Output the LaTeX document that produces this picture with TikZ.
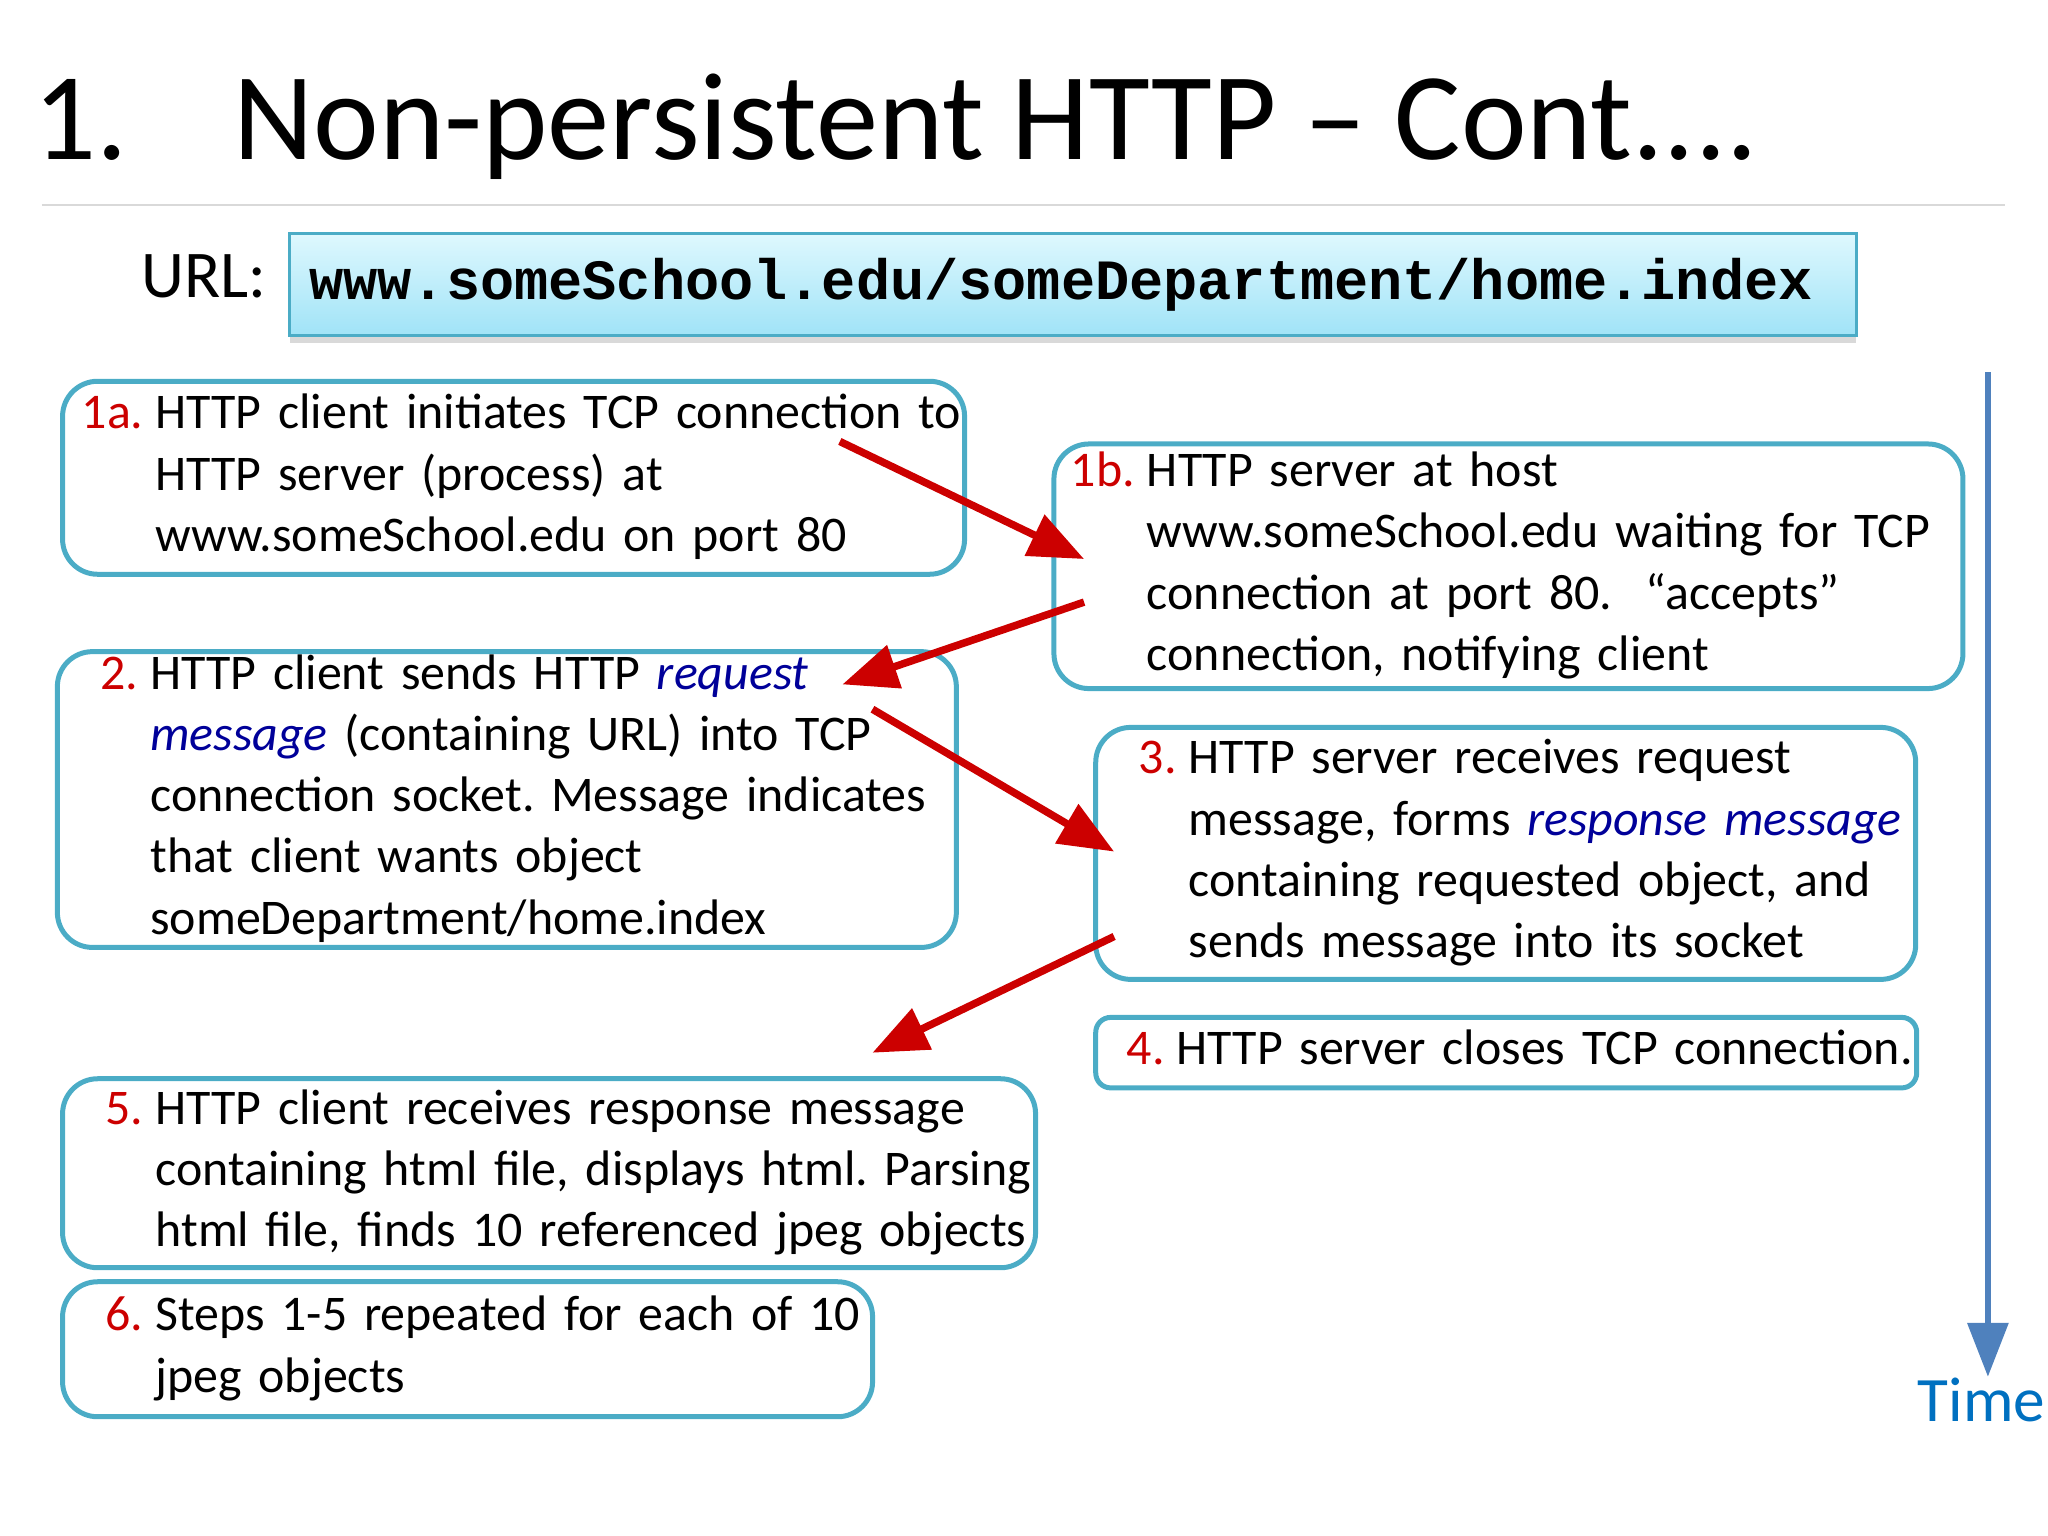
\documentclass[tikz,border=0pt]{standalone}
\usepackage{fontspec}
\setmainfont{Carlito}
\setmonofont{Liberation Mono}
\usetikzlibrary{positioning}
\usetikzlibrary{arrows.meta}
\usetikzlibrary{shadows}
\frenchspacing
\definecolor{boxblue}{RGB}{75,172,198}
\definecolor{numred}{RGB}{204,0,0}
\definecolor{msgblue}{RGB}{0,0,153}
\definecolor{timeblue}{RGB}{79,129,189}
\definecolor{timetext}{RGB}{0,112,192}
\definecolor{urltop}{RGB}{222,248,254}
\definecolor{urlbot}{RGB}{160,227,247}
\definecolor{rulegray}{RGB}{217,217,217}
\newlength{\numw}
\setlength{\numw}{0.75cm}
\newcommand{\stepno}[1]{\makebox[\numw][r]{\textcolor{numred}{#1}\hspace{0.12cm}}}
\newcommand{\ind}{\hspace*{\numw}}
\newcommand{\msg}[1]{\textcolor{msgblue}{\itshape #1}}
\newcommand{\steplines}[1]{\begin{tabular}{@{}l@{}}#1\end{tabular}}
\tikzset{%
  stepbox/.style = {rectangle,draw=boxblue,line width=0.05cm,
        rounded corners=0.35cm,anchor=north west,align=left,
        inner xsep=0.18cm,inner ysep=0pt,
        font=\fontsize{14.2pt}{17.4pt}\selectfont},
  redarrow/.style = {-{Triangle[length=0.55cm,width=0.44cm]},
        draw=numred,line width=0.075cm},
  timearrow/.style = {-{Triangle[length=0.54cm,width=0.40cm]},
        draw=timeblue,line width=0.065cm},
  urlbox/.style = {rectangle,draw=boxblue,line width=0.03cm,
        top color=urltop,bottom color=urlbot,
        drop shadow={shadow xshift=0cm,shadow yshift=-0.07cm,opacity=0.3},
        minimum height=1.02cm,text width=15.27cm,align=left,
        inner xsep=0.196cm,
        font=\ttfamily\bfseries\fontsize{16.2pt}{18pt}\selectfont}
}

\begin{document}
\begin{tikzpicture}[x=0.01306cm,y=-0.01306cm]
   \useasboundingbox (0,0) rectangle (1568,1176);

   % title and url
   \node[anchor=base west,inner sep=0pt,font=\fontsize{35.4pt}{40pt}\selectfont]
      (title) at (25,122) {\makebox[2cm][l]{1.}Non-persistent HTTP -- Cont....};
   \draw[rulegray,line width=0.026cm] (32,157) -- (1535,157);
   \node[anchor=base west,inner sep=0pt,font=\fontsize{19pt}{22pt}\selectfont]
      (urllbl) at (108,228) {URL:};
   \node[urlbox] (url) at (821.5,218) {www.someSchool.edu/someDepartment/home.index};

   % client and server steps
   \node[stepbox,text width=8.66cm,minimum height=1.93cm] (s1a) at (46,290)
      {\steplines{\stepno{1a.}HTTP client initiates TCP connection to\\
       \ind HTTP server (process) at\\
       \ind www.someSchool.edu on port 80}};
   \node[stepbox,text width=8.73cm,minimum height=2.40cm] (s1b) at (805,338)
      {\steplines{\stepno{1b.}HTTP server at host\\
       \ind www.someSchool.edu waiting for TCP\\
       \ind connection at port 80.\ \ ``accepts''\\
       \ind connection, notifying client}};
   \node[stepbox,text width=8.63cm,minimum height=2.95cm,inner ysep=-0.05cm] (s2) at (42,497)
      {\steplines{\stepno{2.}HTTP client sends HTTP \msg{request}\\
       \ind\msg{message} (containing URL) into TCP\\
       \ind connection socket. Message indicates\\
       \ind that client wants object\\
       \ind someDepartment/home.index}};
   \node[stepbox,text width=7.84cm,minimum height=2.52cm] (s3) at (837,555)
      {\steplines{\stepno{3.}HTTP server receives request\\
       \ind message, forms \msg{response message}\\
       \ind containing requested object, and\\
       \ind sends message into its socket}};
   \node[stepbox,text width=8.09cm,minimum height=0.705cm,inner xsep=0.06cm,
         rounded corners=0.15cm,below=0.33cm of s3.south west,anchor=north west] (s4)
      {\steplines{\stepno{4.}HTTP server closes TCP connection.}};
   \node[stepbox,text width=9.37cm,minimum height=1.89cm] (s5) at (46,824)
      {\steplines{\stepno{5.}HTTP client receives response message\\
       \ind containing html file, displays html. Parsing\\
       \ind html file, finds 10 referenced jpeg objects}};
   \node[stepbox,text width=7.74cm,minimum height=1.35cm,
         below=0.09cm of s5.south west,anchor=north west] (s6)
      {\steplines{\stepno{6.}Steps 1-5 repeated for each of 10\\
       \ind jpeg objects}};

   % message arrows
   \coordinate (a1s) at (643,338);
   \coordinate (a1e) at (830,428);
   \coordinate (a2s) at (830,461);
   \coordinate (a2e) at (645,524);
   \coordinate (a3s) at (668,543);
   \coordinate (a3e) at (853,652);
   \coordinate (a4s) at (853,717);
   \coordinate (a4e) at (668,806);
   \draw[redarrow] (a1s) -- (a1e);
   \draw[redarrow] (a2s) -- (a2e);
   \draw[redarrow] (a3s) -- (a3e);
   \draw[redarrow] (a4s) -- (a4e);

   % time axis
   \coordinate (tstart) at (1522,285);
   \node[anchor=base,inner sep=0pt,text=timetext,font=\fontsize{18pt}{21pt}\selectfont]
      (tlabel) at (1517,1088) {Time};
   \draw[timearrow] (tstart) -- (tstart |- tlabel.north);
\end{tikzpicture}
\end{document}
